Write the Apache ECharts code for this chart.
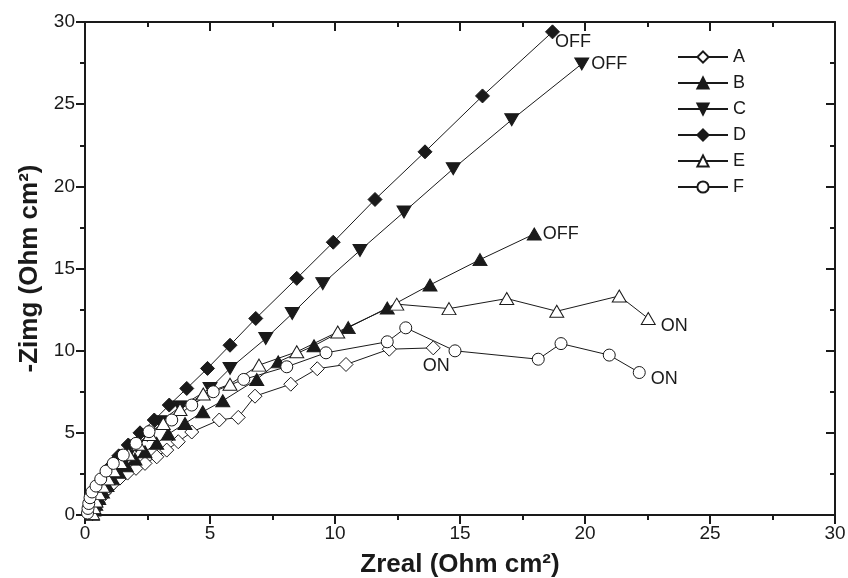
<!DOCTYPE html>
<html>
<head>
<meta charset="utf-8">
<script src="https://cdn.jsdelivr.net/npm/echarts@6/dist/echarts.min.js"></script>
<style>
html,body{margin:0;padding:0;background:#fff;}
#chart{width:848px;height:578px;}
</style>
</head>
<body>
<div id="chart"></div>
<script>
// ---- data (Zreal, -Zimg) in Ohm cm² ----
const seriesNames = ['A', 'B', 'C', 'D', 'E', 'F'];
const dataA = [[0.3,0.08],[0.35,0.25],[0.42,0.48],[0.52,0.75],[0.64,1.05],[0.78,1.35],[0.95,1.65],[1.15,1.95],[1.4,2.25],[1.7,2.55],[2.04,2.84],[2.4,3.14],[2.87,3.54],[3.27,3.95],[3.73,4.46],[4.27,5.05],[5.37,5.78],[6.13,5.94],[6.8,7.23],[8.23,7.96],[9.29,8.9],[10.44,9.16],[12.17,10.09],[13.93,10.17]];
const dataB = [[0.3,0.05],[0.35,0.3],[0.43,0.65],[0.55,1.0],[0.7,1.4],[0.88,1.8],[1.1,2.2],[1.35,2.6],[1.65,3.0],[2.0,3.4],[2.4,3.85],[2.87,4.36],[3.33,4.92],[4.0,5.57],[4.71,6.28],[5.51,6.95],[6.87,8.25],[7.73,9.32],[9.16,10.3],[10.53,11.4],[12.09,12.6],[13.8,14.0],[15.8,15.54],[17.97,17.1]];
const dataC = [[0.3,0.08],[0.37,0.38],[0.45,0.75],[0.57,1.15],[0.72,1.6],[0.9,2.05],[1.12,2.55],[1.4,3.05],[1.7,3.6],[2.05,4.2],[2.49,4.86],[3.0,5.67],[3.8,6.58],[5.0,7.7],[5.8,8.92],[7.23,10.74],[8.29,12.26],[9.51,14.08],[11.0,16.1],[12.76,18.44],[14.73,21.07],[17.07,24.05],[19.87,27.45]];
const dataD = [[0.28,0.15],[0.33,0.55],[0.4,1.0],[0.5,1.45],[0.64,1.95],[0.82,2.45],[1.05,3.0],[1.35,3.6],[1.73,4.26],[2.2,5.0],[2.77,5.78],[3.37,6.69],[4.07,7.7],[4.9,8.92],[5.8,10.33],[6.83,11.96],[8.47,14.4],[9.93,16.6],[11.6,19.2],[13.6,22.1],[15.9,25.5],[18.7,29.4]];
const dataE = [[0.3,0.1],[0.35,0.45],[0.44,0.85],[0.56,1.3],[0.72,1.75],[0.92,2.2],[1.15,2.7],[1.42,3.2],[1.75,3.7],[2.15,4.3],[2.6,4.9],[3.13,5.57],[3.8,6.42],[4.73,7.36],[5.8,7.96],[6.96,9.12],[8.47,9.93],[10.11,11.14],[12.47,12.83],[14.56,12.56],[16.87,13.17],[18.87,12.4],[21.37,13.33],[22.53,11.96]];
const dataF = [[0.1,0.12],[0.12,0.4],[0.15,0.7],[0.2,1.05],[0.28,1.4],[0.44,1.76],[0.63,2.19],[0.84,2.67],[1.13,3.14],[1.53,3.65],[2.04,4.36],[2.56,5.07],[3.47,5.78],[4.27,6.69],[5.13,7.5],[6.35,8.25],[8.07,9.02],[9.64,9.87],[12.09,10.54],[12.83,11.39],[14.8,9.99],[18.13,9.48],[19.04,10.43],[20.97,9.73],[22.17,8.67]];
const endLabels = ['ON', 'OFF', 'OFF', 'OFF', 'ON', 'ON'];
const xTicks = [0, 5, 10, 15, 20, 25, 30];
const yTicks = [0, 5, 10, 15, 20, 25, 30];

const allData = [dataA, dataB, dataC, dataD, dataE, dataF];
const INK = '#1a1a1a';
const FONT = '"Liberation Sans", Arial, sans-serif';

const symbolStyles = [
  {symbol: 'diamond', size: 14, fill: '#fff', rotate: 0},
  {symbol: 'triangle', size: [14, 12], fill: INK, rotate: 0},
  {symbol: 'triangle', size: [14, 12], fill: INK, rotate: 180},
  {symbol: 'diamond', size: 14, fill: INK, rotate: 0},
  {symbol: 'triangle', size: [14, 12], fill: '#fff', rotate: 0},
  {symbol: 'circle', size: 12, fill: '#fff', rotate: 0}
];
const labelPlace = [
  {position: 'bottom', offset: [3, -3]},
  {position: 'right', offset: [-4, 0]},
  {position: 'right', offset: [-3, 0]},
  {position: 'right', offset: [-10, 10]},
  {position: 'right', offset: [0, 8]},
  {position: 'right', offset: [0, 7]}
];

const series = seriesNames.map((name, i) => {
  const d = allData[i];
  const st = symbolStyles[i];
  return {
    name: name,
    type: 'line',
    symbol: st.symbol,
    symbolSize: st.size,
    symbolRotate: st.rotate,
    showAllSymbol: true,
    animation: false,
    lineStyle: {color: INK, width: 1},
    itemStyle: {color: st.fill, borderColor: INK, borderWidth: 1, opacity: 1},
    emphasis: {disabled: true},
    data: d.map((p, j) => {
      const item = {value: p};
      if (j === d.length - 1) {
        item.label = {
          show: true,
          formatter: endLabels[i],
          position: labelPlace[i].position,
          offset: labelPlace[i].offset,
          color: INK,
          fontSize: 18,
          fontFamily: FONT
        };
      }
      return item;
    })
  };
});

const axisCommon = {
  type: 'value',
  min: 0, max: 30, interval: 5,
  axisLine: {show: true, onZero: false, lineStyle: {color: INK, width: 2}},
  splitLine: {show: false},
  minorTick: {show: true, splitNumber: 2, length: 5, lineStyle: {color: INK, width: 2}},
  minorSplitLine: {show: false}
};

const chart = echarts.init(document.getElementById('chart'));
chart.setOption({
  backgroundColor: '#fff',
  animation: false,
  grid: {left: 85, right: 13, top: 22, bottom: 63, containLabel: false, outerBoundsMode: 'none'},
  legend: {
    orient: 'vertical',
    left: 672, top: 43,
    itemWidth: 50, itemHeight: 14, itemGap: 8,
    data: seriesNames,
    textStyle: {color: INK, fontSize: 18, fontFamily: FONT},
    selectedMode: false
  },
  xAxis: [
    Object.assign({}, axisCommon, {
      position: 'bottom',
      name: 'Zreal (Ohm cm²)',
      nameLocation: 'middle', nameGap: 37,
      nameTextStyle: {color: INK, fontSize: 26, fontWeight: 'bold', fontFamily: FONT},
      axisTick: {show: true, inside: false, length: 9, lineStyle: {color: INK, width: 2}},
      axisLabel: {show: true, color: INK, fontSize: 19, fontFamily: FONT, margin: 9,
        formatter: v => xTicks.includes(v) ? String(v) : ''}
    }),
    Object.assign({}, axisCommon, {
      position: 'top',
      axisTick: {show: true, inside: true, length: 9, lineStyle: {color: INK, width: 2}},
      minorTick: {show: true, splitNumber: 2, length: 5, lineStyle: {color: INK, width: 2}},
      axisLabel: {show: false}
    })
  ],
  yAxis: [
    Object.assign({}, axisCommon, {
      position: 'left',
      name: '-Zimg (Ohm cm²)',
      nameLocation: 'middle', nameGap: 42,
      nameTextStyle: {color: INK, fontSize: 26, fontWeight: 'bold', fontFamily: FONT},
      axisTick: {show: true, inside: false, length: 9, lineStyle: {color: INK, width: 2}},
      axisLabel: {show: true, color: INK, fontSize: 19, fontFamily: FONT, margin: 10,
        formatter: v => yTicks.includes(v) ? String(v) : ''}
    }),
    Object.assign({}, axisCommon, {
      position: 'right',
      axisTick: {show: true, inside: true, length: 9, lineStyle: {color: INK, width: 2}},
      axisLabel: {show: false}
    })
  ],
  series: series
});
</script>
</body>
</html>
